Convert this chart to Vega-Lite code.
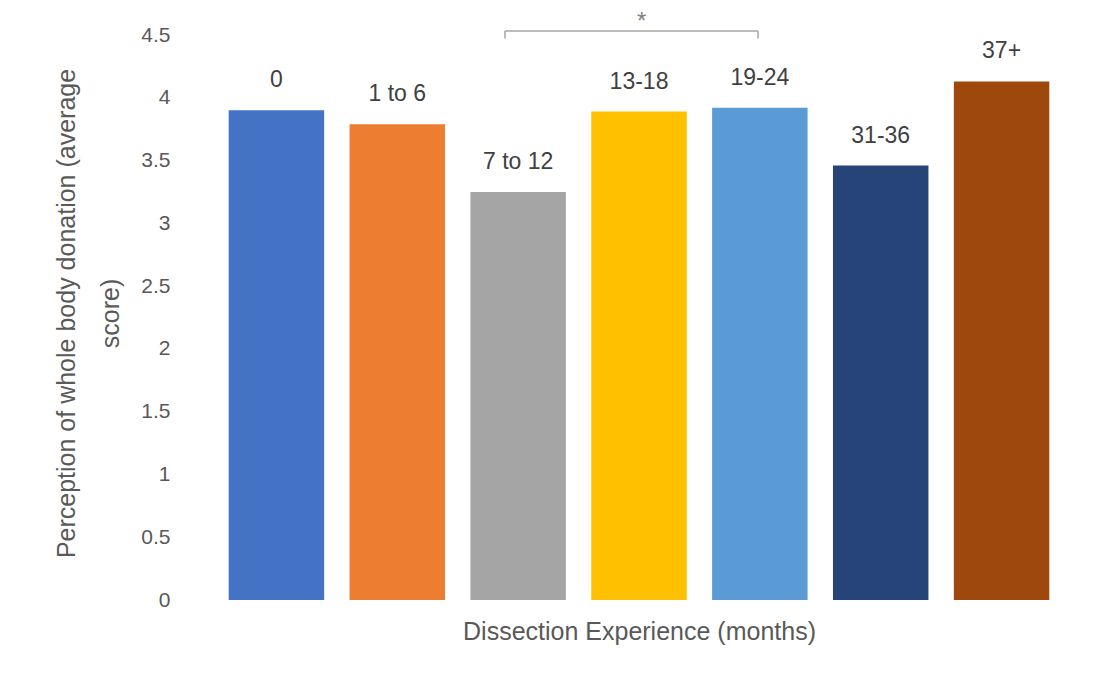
{
  "$schema": "https://vega.github.io/schema/vega-lite/v6.json",
  "width": 846,
  "height": 565,
  "autosize": {"type": "none"},
  "padding": {"left": 216, "top": 35, "right": 43, "bottom": 77},
  "background": "white",
  "config": {"view": {"stroke": null}, "font": "Liberation Sans"},
  "datasets": {
    "bars": [
      {"experience": "0", "score": 3.9},
      {"experience": "1 to 6", "score": 3.79},
      {"experience": "7 to 12", "score": 3.25},
      {"experience": "13-18", "score": 3.89},
      {"experience": "19-24", "score": 3.92},
      {"experience": "31-36", "score": 3.46},
      {"experience": "37+", "score": 4.13}
    ],
    "bracket": [
      {"x1": 2.391, "x2": 4.485, "y1": 4.532, "y2": 4.532},
      {"x1": 2.391, "x2": 2.391, "y1": 4.532, "y2": 4.472},
      {"x1": 4.485, "x2": 4.485, "y1": 4.532, "y2": 4.472}
    ],
    "annotation": [
      {"x": 3.522, "y": 4.6, "label": "*"}
    ]
  },
  "layer": [
    {
      "data": {"name": "bars"},
      "encoding": {
        "x": {
          "field": "experience",
          "type": "nominal",
          "sort": null,
          "scale": {"paddingInner": 0.21, "paddingOuter": 0.105},
          "axis": {
            "title": "Dissection Experience (months)",
            "labels": false,
            "ticks": false,
            "domain": false,
            "titleFontSize": 25,
            "titleFontWeight": "normal",
            "titleColor": "#595959",
            "titlePadding": 19
          }
        },
        "y": {
          "field": "score",
          "type": "quantitative",
          "scale": {"domain": [0, 4.5], "nice": false},
          "axis": {
            "values": [0, 0.5, 1, 1.5, 2, 2.5, 3, 3.5, 4, 4.5],
            "format": "~g",
            "grid": false,
            "ticks": false,
            "domain": false,
            "labelFontSize": 21,
            "labelColor": "#595959",
            "labelPadding": 46,
            "title": ["Perception of whole body donation (average", "score)"],
            "titleFontSize": 25,
            "titleFontWeight": "normal",
            "titleColor": "#595959",
            "titleLineHeight": 44,
            "titleAngle": -90,
            "titleAlign": "center",
            "titleBaseline": "middle",
            "titleX": -150,
            "titleY": 278
          }
        }
      },
      "layer": [
        {
          "mark": {"type": "bar"},
          "encoding": {
            "color": {
              "field": "experience",
              "type": "nominal",
              "scale": {
                "domain": ["0", "1 to 6", "7 to 12", "13-18", "19-24", "31-36", "37+"],
                "range": ["#4472C4", "#ED7D31", "#A5A5A5", "#FFC000", "#5B9BD5", "#264478", "#9E480E"]
              },
              "legend": null
            }
          }
        },
        {
          "mark": {"type": "text", "dy": -30, "fontSize": 23, "color": "#404040", "baseline": "middle"},
          "encoding": {"text": {"field": "experience"}}
        }
      ]
    },
    {
      "data": {"name": "bracket"},
      "mark": {"type": "rule", "color": "#a6a6a6", "strokeWidth": 1.5},
      "encoding": {
        "x": {"field": "x1", "type": "quantitative", "scale": {"domain": [0, 7], "nice": false, "zero": false}, "axis": null},
        "x2": {"field": "x2"},
        "y": {"field": "y1", "type": "quantitative", "scale": {"domain": [0, 4.5], "nice": false}},
        "y2": {"field": "y2"}
      }
    },
    {
      "data": {"name": "annotation"},
      "mark": {"type": "text", "fontSize": 24, "color": "#7f7f7f", "baseline": "middle"},
      "encoding": {
        "x": {"field": "x", "type": "quantitative", "scale": {"domain": [0, 7], "nice": false, "zero": false}, "axis": null},
        "y": {"field": "y", "type": "quantitative", "scale": {"domain": [0, 4.5], "nice": false}},
        "text": {"field": "label"}
      }
    }
  ],
  "resolve": {"scale": {"x": "independent"}}
}
